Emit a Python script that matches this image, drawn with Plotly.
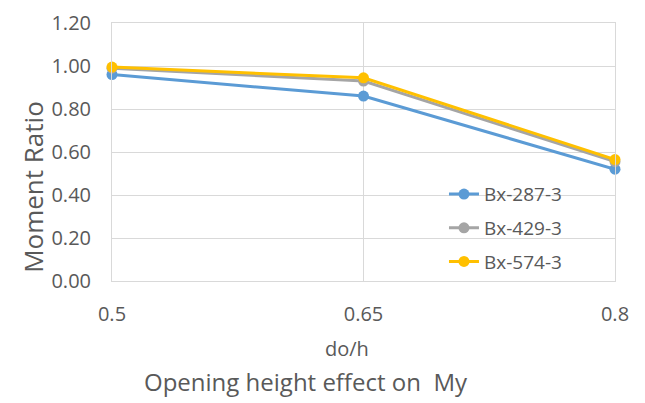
import plotly.graph_objects as go

x_vals = [0.5, 0.65, 0.8]
x_ticks = ["0.5", "0.65", "0.8"]
bx287 = [0.96, 0.86, 0.52]
bx429 = [0.99, 0.93, 0.555]
bx574 = [0.995, 0.945, 0.565]
names = ["Bx-287-3", "Bx-429-3", "Bx-574-3"]
colors = ["#5B9BD5", "#A5A5A5", "#FFC000"]
y_ticks = [0, 0.2, 0.4, 0.6, 0.8, 1.0, 1.2]

font = "Open Sans"
grey = "#595959"
grid = "#D9D9D9"
fig = go.Figure()
for name, ys, c in zip(names, [bx287, bx429, bx574], colors):
    fig.add_trace(go.Scatter(x=x_vals, y=ys, name=name, mode="lines+markers",
                             legendgroup=name,
                             line=dict(color=c, width=3),
                             marker=dict(color=c, size=11), cliponaxis=False))

fig.update_layout(
    width=645, height=403,
    margin=dict(l=104, r=38, t=15, b=130, autoexpand=False),
    plot_bgcolor="white", paper_bgcolor="white",
    font=dict(family=font, color=grey, size=19),
    showlegend=True,
    legend=dict(x=0.66, y=0.41, xanchor="left", yanchor="top",
                bgcolor="rgba(0,0,0,0)", font=dict(size=19, color=grey),
                tracegroupgap=6),
    xaxis=dict(range=[0.5, 0.8], tickvals=x_vals, ticktext=x_ticks,
               showgrid=True, gridcolor=grid, gridwidth=1, zeroline=False,
               showline=True, mirror=True, linecolor=grid, linewidth=1,
               ticks="", ticklabelstandoff=15, automargin=False,
               tickfont=dict(size=20)),
    yaxis=dict(range=[0, 1.2], tickvals=y_ticks, tickformat=".2f",
               showgrid=True, gridcolor=grid, gridwidth=1, zeroline=False,
               showline=True, mirror=True, linecolor=grid, linewidth=1,
               ticks="", ticklabelstandoff=16, automargin=False,
               tickfont=dict(size=20)),
)
fig.add_annotation(text="do/h", xref="paper", yref="paper",
                   x=0.467, y=-0.26, xanchor="center", yanchor="middle", showarrow=False,
                   font=dict(size=20, color=grey))
fig.add_annotation(text="Moment Ratio", xref="paper", yref="paper", textangle=-90,
                   x=-0.157, y=0.365, xanchor="center", yanchor="middle", showarrow=False,
                   font=dict(size=26, color=grey))
fig.add_annotation(text="Opening height effect on  My", xref="paper", yref="paper",
                   x=0.386, y=-0.388, xanchor="center", yanchor="middle", showarrow=False,
                   font=dict(size=24, color=grey))
fig.write_html("out.html")
